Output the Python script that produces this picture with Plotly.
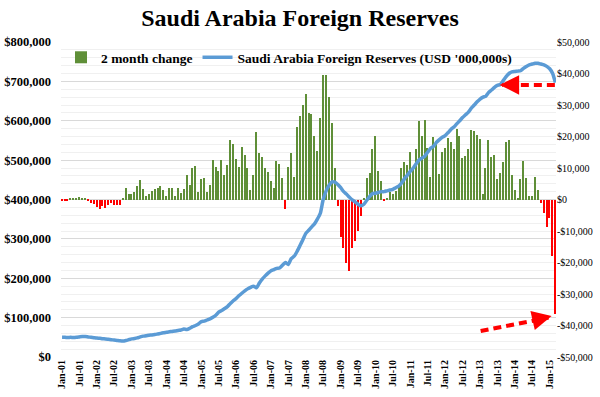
import pandas as pd
import plotly.graph_objects as go

# ---------------- data ----------------
months = pd.date_range("2001-01-01", periods=171, freq="MS")

reserves = [
    50000, 50000, 49500, 50000, 49500, 50000, 51000, 52000, 52000, 51000, 50000, 49000,
    48000, 47500, 46500, 46000, 45000, 44000, 43000, 42000, 41000, 40500, 42000, 44000,
    46000, 47000, 48500, 51000, 53000, 54000, 55500, 56000, 57000, 58500, 60000, 61500,
    63000, 64000, 65000, 66000, 67500, 68500, 71000, 70000, 73000, 77000, 80000, 84000,
    90000, 91000, 94000, 97000, 101000, 106000, 114000, 118000, 123000, 128000, 136000, 143000,
    149000, 156000, 162000, 168000, 173000, 177000, 180000, 176000, 188000, 198000, 206000, 213000,
    219000, 222000, 225000, 226000, 233000, 240000, 235000, 250000, 256000, 268000, 283000, 298000,
    314000, 322000, 330000, 338000, 350000, 365000, 400000, 422000, 436000, 445000, 444000, 438000,
    430000, 420000, 414000, 406000, 399000, 394000, 388000, 384000, 388000, 398000, 408000, 415000,
    416000, 418000, 420000, 420000, 422000, 424000, 426000, 430000, 434000, 442000, 453000, 462000,
    472000, 480000, 490000, 500000, 505000, 510000, 520000, 530000, 535000, 545000, 552000, 558000,
    562000, 570000, 578000, 584000, 592000, 600000, 608000, 615000, 622000, 632000, 640000, 648000,
    655000, 660000, 662000, 672000, 678000, 685000, 690000, 692000, 702000, 712000, 720000, 724000,
    725000, 726000, 727000, 733000, 738000, 742000, 744000, 746000, 746000, 744000, 742000, 738000,
    732000, 720000, 697000,
]

change_2m = [
    -250, -500, -400, 250, 500, 600, 750, 500, 250, -250, -1000, -1500,
    -2500, -3000, -2100, -2750, -1600, -1250, -1600, -1900, -1900, 500, 3500, 1900,
    1900, 2400, 4400, 6100, 3400, 1000, 1900, 2600, 3250, 3750, 4250, 2900,
    1250, 3750, 3500, 1050, 3750, 2100, 3400, 7900, 4750, 10000, 10750, 2400,
    6400, 6900, 2400, 4750, 12400, 10250, 9000, 12500, 7900, 11100, 18750, 17750,
    12900, 10250, 16750, 14000, 10000, 3000, 7900, 21400, 14750, 13500, 10000, 8750,
    6000, 3750, 12100, 11400, 6900, -3000, 10400, 14750, 7100, 23000, 26400, 29900,
    33600, 27500, 27000, 20250, 15500, 25900, 39400, 39400, 32500, 24150, 10000, -2100,
    -11900, -15400, -20100, -22800, -15400, -13250, -10000, -5250, 300, 6900, 8500, 16100,
    20100, 9000, 6000, -400, 300, 2400, 1600, 2600, 4750, 9900, 11900, 11100,
    15000, 10000, 16100, 24900, 20250, 25100, 16400, 7100, 19900, 18500, 8100, 15000,
    16400, 19600, 18250, 15900, 22250, 20100, 13250, 13750, 16100, 22000, 21600, 20600,
    19250, 1600, 10000, 18900, 13500, 14000, 6400, 8500, 11900, 18250, 18900, 7900,
    3100, 250, 6500, 12100, 6900, 1050, 1050, 7100, 3100, -1250, -4250, -8750,
    -5750, -18000, -36500,
]

left_ticks = [0, 100000, 200000, 300000, 400000, 500000, 600000, 700000, 800000]
left_labels = ["$0", "$100,000", "$200,000", "$300,000", "$400,000",
               "$500,000", "$600,000", "$700,000", "$800,000"]
right_ticks = [-50000, -40000, -30000, -20000, -10000, 0, 10000, 20000, 30000, 40000, 50000]
right_labels = ["-$50,000", "-$40,000", "-$30,000", "-$20,000", "-$10,000", "$0",
                "$10,000", "$20,000", "$30,000", "$40,000", "$50,000"]

GREEN = "#5f8f38"
RED = "#ff0000"
BLUE = "#5b9bd5"
FONT = "Liberation Serif"

pos_change = [v if v >= 0 else None for v in change_2m]
neg_change = [v if v < 0 else None for v in change_2m]
BAR_W = 15 * 24 * 3600 * 1000

fig = go.Figure()
fig.add_trace(go.Bar(
    x=months, y=pos_change, name="2 month change",
    marker=dict(color=GREEN, line=dict(width=0)),
    width=BAR_W, yaxis="y",
))
fig.add_trace(go.Bar(
    x=months, y=neg_change, name="2 month change (negative)", showlegend=False,
    marker=dict(color=RED, line=dict(width=0)),
    width=BAR_W, yaxis="y",
))
fig.add_trace(go.Scatter(
    x=months, y=reserves, name="Saudi Arabia Foreign Reserves (USD '000,000s)",
    mode="lines", line=dict(color=BLUE, width=3.5, shape="spline", smoothing=0.6),
    yaxis="y2",
))

red_dash = dict(color=RED, width=4, dash="8px,5px")
fig.update_layout(
    width=600, height=397,
    margin=dict(l=61, r=44, t=42, b=40),
    paper_bgcolor="white", plot_bgcolor="white",
    title=dict(text="<b>Saudi Arabia Foreign Reserves</b>", x=0.5, xanchor="center",
               y=0.977, yanchor="top", yref="container",
               font=dict(family=FONT, size=24, color="black")),
    showlegend=True,
    barmode="overlay",
    legend=dict(orientation="h", x=0.0, y=1.0, xanchor="left", yanchor="top",
                font=dict(family=FONT, size=13.5, color="black", weight="bold"),
                bgcolor="rgba(0,0,0,0)", itemwidth=30, traceorder="normal"),
    bargap=0,
    xaxis=dict(type="date", range=["2000-12-21", "2015-03-08"],
               tick0="2001-01-01", dtick="M6", tickformat="%b-%y", tickangle=-90,
               tickfont=dict(family=FONT, size=10, color="black", weight="bold"),
               showgrid=False, showline=False, ticks="", automargin=False,
               ticklabelstandoff=0),
    yaxis=dict(side="right", range=[-50000, 50000], tickvals=right_ticks, ticktext=right_labels,
               showgrid=False, zeroline=False, showline=False, ticks="",
               tickfont=dict(family=FONT, size=10, color="black"), automargin=False),
    yaxis2=dict(side="left", overlaying="y", range=[0, 800000],
                tickvals=left_ticks, ticktext=left_labels,
                showgrid=True, gridcolor="#d9d9d9", gridwidth=1, zeroline=False,
                minor=dict(dtick=20000, showgrid=True, gridcolor="#f0f0f0"),
                tickfont=dict(family=FONT, size=12.5, color="black", weight="bold"),
                ticklabelstandoff=9, automargin=False),
    shapes=[
        dict(type="line", xref="x", yref="y2", x0="2015-02-24", y0=691000,
             x1="2013-08-20", y1=691000, line=red_dash),
        dict(type="line", xref="x", yref="y2", x0="2013-01-07", y0=66000,
             x1="2014-12-20", y1=100000, line=red_dash),
    ],
    annotations=[
        dict(x="2013-07-25", y=691000, xref="x", yref="y2", ax=14, ay=0,
             showarrow=True, arrowhead=2, arrowsize=1.3, arrowwidth=3,
             arrowcolor=RED, text=""),
        dict(x="2015-01-21", y=104000, xref="x", yref="y2", ax=-13, ay=3,
             showarrow=True, arrowhead=2, arrowsize=1.3, arrowwidth=3,
             arrowcolor=RED, text=""),
    ],
)

fig.write_html("out.html", config={"displayModeBar": False},
               post_script="document.body.style.margin='0';")
